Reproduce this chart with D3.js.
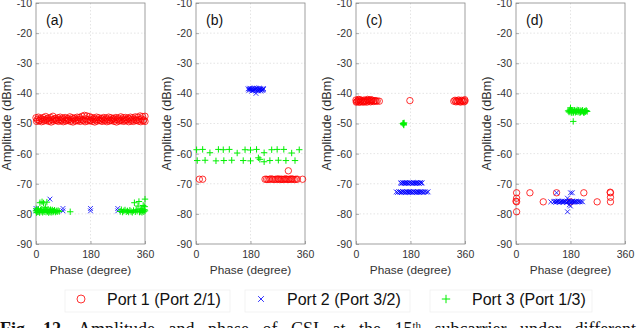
<!DOCTYPE html>
<html><head><meta charset="utf-8">
<script src="https://cdn.jsdelivr.net/npm/d3@7"></script>
<style>body{margin:0;background:#fff;} svg{display:block;}</style>
</head><body>
<svg id="c" width="640" height="328"></svg>
<script>
const panelLabels = ["(a)","(b)","(c)","(d)"];
const xTicks = [0,180,360];
const yTicks = [-90,-80,-70,-60,-50,-40,-30,-20,-10];
const seriesNames = ["Port 1 (Port 2/1)","Port 2 (Port 3/2)","Port 3 (Port 1/3)"];
const xTitle = "Phase (degree)";
const yTitle = "Amplitude (dBm)";

// Panel (a)
const aRed = [[0,-48.1],[8,-47.9],[16,-48.3],[24,-48.0],[32,-47.7],[40,-48.2],[48,-48.0],[56,-47.6],[64,-48.3],[72,-48.1],[80,-47.9],[88,-48.2],[96,-48.0],[104,-48.3],[112,-47.8],[120,-48.1],[128,-48.2],[136,-47.9],[144,-48.0],[152,-47.6],[160,-47.3],[168,-47.5],[176,-47.7],[184,-48.0],[192,-48.2],[200,-47.9],[208,-48.1],[216,-48.3],[224,-48.0],[232,-48.2],[240,-47.9],[248,-48.1],[256,-48.3],[264,-48.0],[272,-48.2],[280,-47.8],[288,-48.1],[296,-48.0],[304,-48.2],[312,-47.9],[320,-48.1],[328,-47.8],[336,-47.9],[344,-47.5],[352,-47.7],[360,-47.6],
[4,-48.7],[12,-48.9],[20,-48.6],[28,-48.8],[36,-48.5],[44,-48.9],[52,-48.7],[60,-48.6],[68,-48.9],[76,-48.7],[84,-48.8],[92,-48.6],[100,-48.9],[108,-48.7],[116,-48.8],[124,-48.5],[132,-48.9],[140,-48.7],[148,-48.6],[156,-48.8],[164,-48.5],[172,-48.7],[180,-48.9],[188,-48.6],[196,-48.8],[204,-48.7],[212,-48.9],[220,-48.6],[228,-48.8],[236,-48.7],[244,-48.9],[252,-48.6],[260,-48.8],[268,-48.7],[276,-48.9],[284,-48.6],[292,-48.8],[300,-48.7],[308,-48.5],[316,-48.8],[324,-48.6],[332,-48.9],[340,-48.7],[348,-48.5],[356,-48.8],
[2,-49.3],[10,-49.1],[18,-49.4],[26,-49.2],[34,-49.0],[42,-49.3],[50,-49.5],[58,-49.2],[66,-49.0],[74,-49.3],[82,-49.1],[90,-49.4],[98,-49.2],[106,-49.0],[114,-49.3],[122,-49.5],[130,-49.2],[138,-49.1],[146,-49.3],[154,-49.0],[162,-49.4],[170,-49.2],[178,-49.1],[186,-49.3],[194,-49.5],[202,-49.2],[210,-49.0],[218,-49.3],[226,-49.1],[234,-49.4],[242,-49.2],[250,-49.0],[258,-49.3],[266,-49.5],[274,-49.2],[282,-49.1],[290,-49.3],[298,-49.0],[306,-49.4],[314,-49.2],[322,-49.3],[330,-49.0],[338,-49.2],[346,-49.4],[354,-49.1],[360,-49.3]];
const aBlue = [[0,-78.2],[0,-79.0],[46,-75.1],[89,-78.2],[89,-79.0],[180,-78.2],[180,-79.0],[270,-78.2],[270,-79.0]];
const aGreen = [[0,-79.0],[1,-78.3],[2,-79.6],[4,-78.8],[6,-79.3],[8,-78.5],[10,-79.1],[12,-79.6],[13,-76.3],[15,-78.7],[17,-79.2],[19,-78.4],[20,-76.0],[22,-79.5],[24,-78.9],[25,-76.4],[27,-79.3],[29,-78.6],[31,-77.8],[33,-79.4],[35,-78.8],[36,-76.1],[38,-79.2],[40,-78.5],[42,-79.6],[44,-78.9],[46,-79.3],[48,-78.6],[50,-79.5],[52,-79.0],[54,-78.7],[56,-79.4],[58,-79.1],[61,-78.8],[64,-79.4],[67,-79.0],[70,-79.3],[73,-78.9],[77,-79.2],[113,-79.3],
[278,-79.2],[282,-78.6],[286,-79.4],[290,-79.0],[294,-78.7],[298,-79.3],[302,-79.0],[306,-79.4],[310,-78.8],[314,-79.2],[318,-79.5],[322,-78.9],[325,-76.3],[328,-79.3],[331,-78.6],[334,-79.1],[337,-77.4],[340,-75.9],[342,-79.4],[344,-78.8],[346,-79.2],[348,-78.3],[350,-79.5],[352,-78.9],[354,-77.2],[356,-79.3],[358,-78.6],[360,-75.1],[360,-79.0],[359,-77.6]];

// Panel (b)
const bRed = [[11,-68.5],[22,-68.5],[228,-68.5],[233,-68.5],[238,-68.6],[243,-68.5],[248,-68.4],[253,-68.5],[258,-68.6],[263,-68.5],[268,-68.5],[272,-68.4],[276,-68.6],[280,-68.5],[284,-68.5],[288,-68.6],[292,-68.5],[296,-68.4],[300,-68.5],[304,-68.6],[308,-68.5],[312,-68.5],[316,-68.4],[320,-68.5],[325,-68.6],[330,-68.5],[335,-68.5],[352,-68.5],[305,-65.7]];
const bBlue = [[172,-38.5],[175,-39.0],[178,-38.3],[181,-38.8],[184,-39.2],[187,-38.4],[190,-38.9],[193,-38.2],[196,-38.7],[199,-39.1],[202,-38.4],[205,-38.9],[208,-38.3],[211,-38.8],[214,-39.2],[217,-38.5],[220,-38.9],[223,-38.4],[176,-38.6],[182,-38.4],[188,-39.1],[194,-38.6],[200,-38.3],[206,-39.2],[212,-38.5],[218,-39.0],[222,-38.7],[198,-40.0]];
const bGreen = [[2,-58.7],[22,-58.6],[74,-58.6],[90,-58.7],[110,-58.6],[162,-58.7],[180,-58.8],[200,-58.6],[250,-58.7],[268,-58.6],[290,-58.6],[341,-58.7],
[46,-59.7],[136,-59.8],[225,-59.7],[316,-59.8],
[4,-62.3],[30,-62.2],[66,-62.4],[92,-62.3],[118,-62.2],[156,-62.3],[180,-62.4],[206,-61.4],[211,-61.9],[225,-62.7],[244,-62.3],[272,-62.2],[297,-62.3],[327,-62.3]];

// Panel (c)
const cRed = [[0,-42.2],[3,-42.7],[6,-42.4],[9,-42.9],[12,-42.1],[15,-42.6],[18,-42.3],[21,-42.8],[24,-42.5],[27,-42.2],[30,-42.7],[33,-42.4],[36,-42.9],[39,-42.3],[42,-42.6],[45,-42.2],[48,-42.8],[51,-42.5],[54,-42.3],[57,-42.7],[60,-42.5],[63,-42.4],[66,-42.6],[70,-42.5],[77,-42.6],[1,-42.9],[8,-42.0],[14,-42.9],[26,-42.9],[38,-42.0],[50,-42.1],[178,-42.4],
[323,-42.6],[327,-42.3],[330,-42.8],[333,-42.4],[336,-42.7],[339,-42.2],[342,-42.6],[345,-42.9],[348,-42.3],[351,-42.7],[354,-42.4],[357,-42.8],[360,-42.5],[359,-42.1]];
const cBlue = [[147,-69.7],[150,-69.9],[153,-69.6],[156,-69.8],[159,-69.7],[162,-69.9],[165,-69.6],[168,-69.8],[171,-69.7],[174,-69.9],[177,-69.6],[180,-69.8],[183,-69.7],[186,-69.9],[189,-69.6],[192,-69.8],[195,-69.7],[198,-69.9],[201,-69.6],[204,-69.8],[207,-69.7],[210,-69.9],[213,-69.6],[216,-69.8],[218,-69.7],
[133,-72.7],[137,-72.9],[141,-72.6],[145,-72.8],[148,-72.7],[151,-72.9],[154,-72.6],[157,-72.8],[160,-72.7],[163,-72.9],[166,-72.6],[169,-72.8],[172,-72.7],[175,-72.9],[178,-72.6],[181,-72.8],[184,-72.7],[187,-72.9],[190,-72.6],[193,-72.8],[196,-72.7],[199,-72.9],[202,-72.6],[205,-72.8],[208,-72.7],[211,-72.9],[214,-72.6],[217,-72.8],[220,-72.7],[224,-72.9],[228,-72.6],[233,-72.8],[238,-72.7]];
const cGreen = [[155,-50.0],[157,-50.3],[159,-49.8],[158,-50.5],[156,-49.9],[157,-50.1]];

// Panel (d)
const dRed = [[2,-73.0],[2,-74.8],[2,-76.0],[2,-79.3],[0,-75.8],[46,-73.0],[90,-76.0],[134,-73.0],[180,-76.0],[224,-73.0],[268,-76.0],[312,-73.0],[312,-74.5],[312,-76.0],[311,-72.8]];
const dBlue = [[125,-76.0],[128,-75.8],[131,-76.1],[134,-75.9],[137,-76.0],[140,-75.7],[143,-76.2],[146,-75.9],[149,-76.0],[152,-75.8],[155,-76.1],[158,-75.9],[161,-76.0],[164,-75.8],[167,-76.2],[170,-75.9],[173,-76.0],[176,-75.7],[179,-76.1],[182,-75.9],[185,-76.0],[188,-75.8],[191,-76.1],[194,-75.9],[197,-76.0],[200,-75.8],[203,-76.1],[207,-75.9],[211,-76.0],[215,-75.9],[220,-76.0],[115,-76.0],[134,-73.0],[180,-73.0],[186,-73.0],[170,-74.8],[170,-79.3],[180,-77.4],[176,-77.0]];
const dGreen = [[172,-45.8],[175,-46.2],[178,-45.5],[181,-46.0],[184,-46.4],[187,-45.7],[190,-46.1],[193,-45.6],[196,-46.3],[199,-45.9],[202,-45.5],[205,-46.2],[208,-45.8],[211,-46.4],[214,-45.7],[217,-46.0],[220,-45.6],[223,-46.3],[226,-45.9],[229,-46.1],[232,-45.7],[235,-46.0],[176,-45.9],[183,-45.6],[189,-46.4],[195,-45.8],[201,-46.1],[207,-45.6],[213,-46.2],[219,-45.9],[225,-46.4],[231,-45.8],[180,-44.8],[189,-49.3]];

const panels = [
  {red:aRed, blue:aBlue, green:aGreen},
  {red:bRed, blue:bBlue, green:bGreen},
  {red:cRed, blue:cBlue, green:cGreen},
  {red:dRed, blue:dBlue, green:dGreen}
];
const colors = {red:"#ff0000", blue:"#0000ff", green:"#00f000"};
const FONT = "'Liberation Sans', Arial, sans-serif";

const svg = d3.select("#c");
const yTopPx = 3, yBotPx = 244, pw = 109;

function marker(sel, type, s) {
  if (type === "red") {
    sel.append("circle").attr("r", s).attr("fill","none").attr("stroke",colors.red).attr("stroke-width",0.8);
  } else if (type === "blue") {
    const h = s*0.8;
    sel.append("path").attr("d",`M${-h},${-h}L${h},${h}M${-h},${h}L${h},${-h}`).attr("stroke",colors.blue).attr("stroke-width",0.8).attr("fill","none");
  } else {
    const h = s;
    sel.append("path").attr("d",`M${-h},0L${h},0M0,${-h}L0,${h}`).attr("stroke",colors.green).attr("stroke-width",1).attr("fill","none");
  }
}

panels.forEach((p, i) => {
  const left = 36 + 160*i;
  const x = d3.scaleLinear().domain([0,360]).range([left, left+pw]);
  const y = d3.scaleLinear().domain([-90,-10]).range([yBotPx, yTopPx]);
  const g = svg.append("g");

  g.append("g").selectAll("line").data(yTicks.slice(1,-1)).join("line")
    .attr("x1",left).attr("x2",left+pw).attr("y1",d=>y(d)).attr("y2",d=>y(d))
    .attr("stroke","#d4d4d4").attr("stroke-width",0.6).attr("stroke-dasharray","1.5,2");
  g.append("g").selectAll("line").data(xTicks.slice(1,-1)).join("line")
    .attr("y1",yTopPx).attr("y2",yBotPx).attr("x1",d=>x(d)).attr("x2",d=>x(d))
    .attr("stroke","#d4d4d4").attr("stroke-width",0.6).attr("stroke-dasharray","1.5,2");

  const ya = g.append("g").attr("transform",`translate(${left},0)`)
    .call(d3.axisLeft(y).tickValues(yTicks).tickSize(-3).tickSizeOuter(0).tickPadding(4).tickFormat(d => String(d)));
  const xa = g.append("g").attr("transform",`translate(0,${yBotPx})`)
    .call(d3.axisBottom(x).tickValues(xTicks).tickSize(-3).tickSizeOuter(0).tickPadding(7).tickFormat(d => String(d)));
  [ya, xa].forEach(a => {
    a.select(".domain").remove();
    a.selectAll("line").attr("stroke","#777").attr("stroke-width",0.6);
    a.selectAll("text").attr("fill","#333").style("font-family",FONT).style("font-size","10.5px");
  });
  g.append("rect").attr("x",left).attr("y",yTopPx).attr("width",pw).attr("height",yBotPx-yTopPx)
    .attr("fill","none").attr("stroke","#888").attr("stroke-width",0.8);

  ["red","blue","green"].forEach(k => {
    const s = k==="red" ? 3.2 : (k==="blue" ? 3.0 : 3.2);
    g.append("g").selectAll("g").data(p[k]).join("g")
      .attr("transform", d => `translate(${x(d[0])},${y(d[1])})`)
      .each(function(){ marker(d3.select(this), k, s); });
  });

  g.append("text").attr("x",left+10).attr("y",25).text(panelLabels[i])
    .style("font-family",FONT).style("font-size","14px").attr("fill","#111");
  g.append("text").attr("x",left+pw/2).attr("y",274).attr("text-anchor","middle").text(xTitle)
    .style("font-family",FONT).style("font-size","11.8px").attr("fill","#333");
  g.append("text").attr("transform",`translate(${left-25},${(yTopPx+yBotPx)/2}) rotate(-90)`)
    .attr("text-anchor","middle").text(yTitle)
    .style("font-family",FONT).style("font-size","12.6px").attr("fill","#333");
});

const legendX = [[65,230],[245,410],[430,592]];
const legendKeys = ["red","blue","green"];
legendKeys.forEach((k, i) => {
  const [x0, x1] = legendX[i];
  const lg = svg.append("g");
  lg.append("rect").attr("x",x0).attr("y",290).attr("width",x1-x0).attr("height",22)
    .attr("fill","#fff").attr("stroke","#f0f0f0").attr("stroke-width",0.8);
  const m = lg.append("g").attr("transform",`translate(${x0+16},299)`);
  marker(m, k, k==="red"?4:(k==="blue"?3.6:4.2));
  lg.append("text").attr("x",x0+42).attr("y",305).text(seriesNames[i])
    .style("font-family",FONT).style("font-size","16px").attr("fill","#111");
});

const cap = svg.append("text").attr("x",0).attr("y",335)
  .style("font-family","'Liberation Serif','Times New Roman',serif").style("font-size","18px").attr("fill","#111")
  .style("word-spacing","9px");
cap.append("tspan").style("font-weight","bold").text("Fig. 12.");
cap.append("tspan").text(" Amplitude and phase of CSI at the 15");
cap.append("tspan").attr("baseline-shift","super").style("font-size","11px").text("th");
cap.append("tspan").text(" subcarrier under different");
</script>
</body></html>
